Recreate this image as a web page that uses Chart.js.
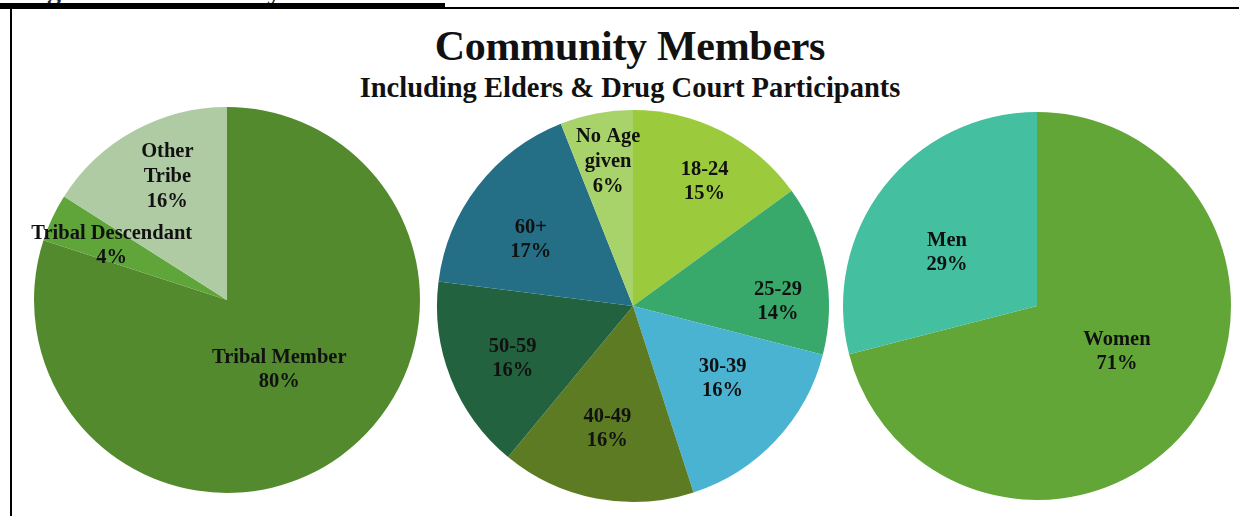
<!DOCTYPE html>
<html>
<head>
<meta charset="utf-8">
<script src="https://cdn.jsdelivr.net/npm/chart.js@4/dist/chart.umd.min.js"></script>
<style>
  html, body { margin: 0; padding: 0; background: #fff; overflow: hidden; }
  body { width: 1239px; height: 516px; position: relative; font-family: "Liberation Serif", serif; }
  .caption { position: absolute; left: 22px; top: -24px; font-size: 28px; line-height: 28px; font-weight: bold; color: #222; white-space: nowrap; }
  .capline { position: absolute; left: 0; top: 3px; width: 445px; height: 5px; background: #000; }
  .topline { position: absolute; left: 0; top: 7px; width: 1239px; height: 2px; background: #000; }
  .leftline { position: absolute; left: 10px; top: 8px; width: 2px; height: 508px; background: #000; }
  .title { position: absolute; left: 0; width: 1260px; text-align: center; font-weight: bold; color: #111; }
  #t1 { top: 25px; font-size: 42px; line-height: 42px; letter-spacing: -0.3px; }
  #t2 { top: 74px; font-size: 28.5px; line-height: 28px; }
</style>
</head>
<body>
<div class="caption">Figure 1: Community Members</div>
<div class="capline"></div>
<div class="topline"></div>
<div class="leftline"></div>
<div class="title" id="t1">Community Members</div>
<div class="title" id="t2">Including Elders &amp; Drug Court Participants</div>
<div style="position:absolute;left:24px;top:97px;width:406px;height:406px"><canvas id="tribeChart"></canvas></div>
<div style="position:absolute;left:427px;top:100px;width:412px;height:412px"><canvas id="ageChart"></canvas></div>
<div style="position:absolute;left:833px;top:102px;width:408px;height:408px"><canvas id="genderChart"></canvas></div>
<script>
const tribeLabels = ["Tribal Member", "Tribal\u00a0Descendant", "Other\nTribe"];
const tribeValues = [80, 4, 16];
const tribeColors = ["#538a2e", "#60a53a", "#afcba3"];

const ageLabels = ["18-24", "25-29", "30-39", "40-49", "50-59", "60+", "No Age\ngiven"];
const ageValues = [15, 14, 16, 16, 16, 17, 6];
const ageColors = ["#9bcb3c", "#38a86b", "#4bb3d2", "#5d7b23", "#23623f", "#246f86", "#a8d36b"];

const genderLabels = ["Women", "Men"];
const genderValues = [71, 29];
const genderColors = ["#63a638", "#44bfa0"];

// draws "label / value%" inside each slice, like Excel's best-fit labels
const sliceLabels = {
    id: "sliceLabels",
    afterDatasetsDraw(chart, args, opts) {
        const ctx = chart.ctx;
        const meta = chart.getDatasetMeta(0);
        const values = chart.data.datasets[0].data;
        ctx.save();
        ctx.font = "bold 20.5px 'Liberation Serif', serif";
        ctx.fillStyle = "#111";
        ctx.textAlign = "center";
        ctx.textBaseline = "middle";
        meta.data.forEach(function(arc, i) {
            const p = arc.getProps(["x", "y", "startAngle", "endAngle", "outerRadius"], true);
            const mid = (p.startAngle + p.endAngle) / 2 + (opts.shift[i] || 0) * Math.PI / 180;
            const r = p.outerRadius * opts.radius[i];
            const x = p.x + Math.cos(mid) * r;
            const y = p.y + Math.sin(mid) * r;
            const lines = String(chart.data.labels[i]).split("\n").concat([values[i] + "%"]);
            const lh = lines.length > 2 ? 25 : 24;
            const top = y - (lines.length - 1) * lh / 2;
            lines.forEach(function(t, j) {
                ctx.fillText(t, x, top + j * lh);
            });
        });
        ctx.restore();
    }
};

function makePie(id, labels, values, colors, labelOpts) {
    const ctx = document.getElementById(id).getContext("2d");
    return new Chart(ctx, {
        type: "pie",
        data: {
            labels: labels,
            datasets: [{
                data: values,
                backgroundColor: colors,
                borderWidth: 0
            }]
        },
        options: {
            responsive: true,
            maintainAspectRatio: false,
            animation: false,
            layout: { padding: 10 },
            plugins: {
                legend: { display: false },
                tooltip: { enabled: false },
                sliceLabels: labelOpts
            }
        },
        plugins: [sliceLabels]
    });
}

makePie("tribeChart", tribeLabels, tribeValues, tribeColors,
    { radius: [0.45, 0.66, 0.71], shift: [-1, 0, 3] });
makePie("ageChart", ageLabels, ageValues, ageColors,
    { radius: [0.73, 0.74, 0.59, 0.64, 0.67, 0.62, 0.745], shift: [3, 9, -4, 1, -2, -5, 1] });
makePie("genderChart", genderLabels, genderValues, genderColors,
    { radius: [0.475, 0.54], shift: [-8, -7] });
</script>
</body>
</html>
